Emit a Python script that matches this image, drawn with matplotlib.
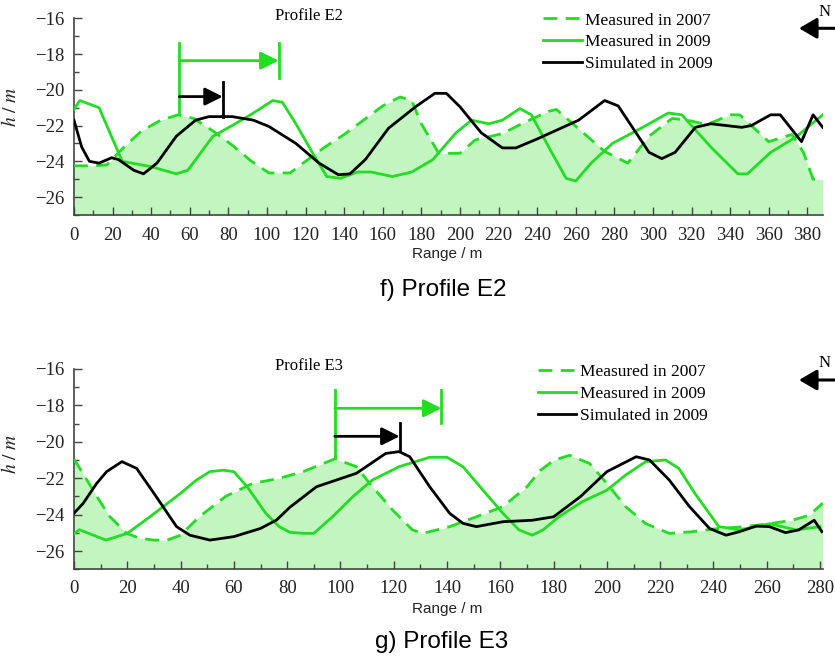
import matplotlib

matplotlib.use("Agg")
import matplotlib.pyplot as plt
from matplotlib.ticker import MultipleLocator

plt.rcParams.update({
    "font.family": "Liberation Serif",
    "mathtext.fontset": "stix",
    "axes.unicode_minus": True,
})

GREEN = "#22dd22"
FILL = "#c3f5c0"
GREY = "#444444"

# ---- Profile E2 ----
e2_2007_x = [0, 10, 17, 25, 35, 45, 54, 62, 72, 82, 92, 101, 112, 120, 130, 140,
             150, 160, 169, 175, 180, 189, 200, 208, 222, 232, 246, 250, 258,
             275, 287, 298, 310, 318, 328, 340, 345, 360, 372, 378, 383, 388]
e2_2007_h = [-24.25, -24.25, -24.2, -23.3, -22.3, -21.7, -21.4, -21.6, -22.3, -23.1,
             -24.0, -24.65, -24.65, -24.0, -23.2, -22.5, -21.7, -20.9, -20.4, -20.6,
             -21.9, -23.55, -23.55, -22.8, -22.45, -21.9, -21.2, -21.1, -21.85,
             -23.45, -24.1, -22.6, -21.6, -21.7, -21.95, -21.4, -21.4, -22.9, -22.5,
             -23.5, -25.0, -25.0]

e2_2009_x = [0, 3, 13, 25, 40, 53, 59, 72, 82, 93, 103, 108, 115, 124, 131, 138,
             147, 154, 165, 175, 186, 198, 206, 215, 222, 231, 237, 246, 255, 260,
             268, 279, 293, 308, 315, 330, 344, 349, 361, 374, 388]
e2_2009_h = [-21.1, -20.6, -21.0, -24.0, -24.3, -24.7, -24.5, -22.6, -22.0, -21.3,
             -20.6, -20.7, -21.9, -23.6, -24.85, -24.95, -24.6, -24.6, -24.85, -24.6,
             -23.9, -22.4, -21.7, -21.9, -21.7, -21.05, -21.4, -23.2, -24.95, -25.1,
             -24.1, -23.0, -22.2, -21.3, -21.4, -23.2, -24.7, -24.7, -23.5, -22.65,
             -21.4]

e2_sim_x = [0, 4, 8, 13, 19.5, 23, 31, 36, 43, 53, 63, 70, 82, 93, 101, 115, 127,
            137, 143, 151, 163, 177, 187, 193, 200, 211, 222, 229, 240, 261.5, 275,
            282, 298, 304.6, 311.5, 322, 330, 346, 351, 361, 366, 377, 383, 388]
e2_sim_h = [-21.7, -23.2, -24.0, -24.1, -23.8, -23.9, -24.5, -24.7, -24.1, -22.6,
            -21.7, -21.5, -21.5, -21.7, -22.05, -23.0, -24.1, -24.75, -24.7, -23.9,
            -22.15, -20.95, -20.2, -20.2, -20.95, -22.4, -23.25, -23.25, -22.75,
            -21.7, -20.6, -20.9, -23.5, -23.85, -23.5, -22.1, -21.9, -22.1, -22.0,
            -21.4, -21.4, -22.9, -21.4, -22.1]

# shift markers: (x_start, x_green_end, x_black_end), heights
e2_shift_x = [54.6, 106, 77.1]
e2_green_bar = [-17.4, -21.25, -17.4, -19.35, -18.37]   # left bar, right bar, arrow
e2_black_bar = [-19.55, -21.5, -20.38]                   # bar, arrow

# ---- Profile E3 ----
e3_2007_x = [0, 3.5, 8.5, 13.5, 19.75, 24.75, 30, 35, 40, 47, 57, 67, 77, 86, 98,
             106, 112, 119.6, 127, 131, 141, 151, 161, 170, 175, 180, 186, 193.5,
             200, 207, 214.6, 223.4, 232, 242, 252, 261, 269.6, 276, 281]
e3_2007_h = [-20.95, -21.77, -22.99, -24.12, -25.03, -25.30, -25.40, -25.40, -25.13,
             -24.12, -22.99, -22.29, -22.01, -21.64, -20.93, -21.37, -22.47, -23.75,
             -24.84, -25.03, -24.66, -24.12, -23.56, -22.47, -21.58, -21.02, -20.74,
             -21.19, -22.29, -23.56, -24.50, -25.03, -24.94, -24.76, -24.66, -24.50,
             -24.31, -24.03, -23.37]

e3_2009_x = [0, 2, 12, 20, 28.5, 40, 46, 51, 56, 60, 65, 72, 77, 81, 86, 90, 97,
             104.6, 112, 122, 133.5, 140, 146, 153.5, 161, 167, 172, 176, 182, 191,
             200, 207, 214.6, 222, 227, 233, 242, 250, 261, 271, 280]
e3_2009_h = [-25.06, -24.83, -25.40, -25.03, -24.12, -22.83, -22.10, -21.64, -21.56,
             -21.64, -22.47, -23.93, -24.66, -24.97, -25.03, -25.03, -24.12, -23.02,
             -22.10, -21.37, -20.85, -20.85, -21.37, -22.66, -23.93, -24.84, -25.13,
             -24.84, -24.12, -23.27, -22.66, -21.83, -21.09, -21.0, -21.46, -22.83,
             -24.66, -24.84, -24.50, -24.84, -24.66]

e3_sim_x = [0, 3.5, 8.5, 12.25, 18, 23.5, 30, 38.5, 43.5, 51, 60, 70, 76, 81, 91,
            106, 117, 122, 126, 133.5, 141, 146, 151, 161, 172, 180, 190, 200, 211,
            216, 223.4, 231, 238.5, 244.7, 249.7, 256, 261, 267, 272, 277.8, 280.7]
e3_sim_h = [-23.93, -23.37, -22.29, -21.64, -21.09, -21.46, -22.83, -24.66, -25.13,
            -25.40, -25.21, -24.76, -24.3, -23.6, -22.47, -21.73, -20.64, -20.54,
            -20.82, -22.47, -23.93, -24.48, -24.66, -24.39, -24.31, -24.12, -23.02,
            -21.64, -20.82, -21.0, -22.10, -23.56, -24.76, -25.13, -24.94, -24.63,
            -24.66, -24.99, -24.84, -24.31, -24.94]

e3_shift_x = [97.9, 137.9, 122.2]
e3_green_bar = [-17.16, -20.91, -17.16, -18.99, -18.16]
e3_black_bar = [-18.99, -20.46, -19.70]

Y_TICKS = [-16, -18, -20, -22, -24, -26]
LEGEND_LABELS = ["Measured in 2007", "Measured in 2009", "Simulated in 2009"]


def draw_panel(ax, xmax, x07, h07, x09, h09, xs, hs, shift_x, gbar, bbar,
               name, name_x, legend_anchor, ylabel_y, xpad):
    ax.fill_between(x07, h07, -27, color=FILL, lw=0, zorder=1)
    l1, = ax.plot(x07, h07, color=GREEN, lw=2.0, dashes=(5, 3), zorder=3)
    l2, = ax.plot(x09, h09, color=GREEN, lw=2.0, zorder=4)
    l3, = ax.plot(xs, hs, color="black", lw=2.0, zorder=5)

    # horizontal shift markers
    x0, xg, xb = shift_x
    ax.plot([x0, x0], gbar[0:2], color=GREEN, lw=2, zorder=6)
    ax.plot([xg, xg], gbar[2:4], color=GREEN, lw=2, zorder=6)
    ax.annotate("", xy=(xg, gbar[4]), xytext=(x0, gbar[4]),
                arrowprops=dict(arrowstyle="-|>,head_length=0.6,head_width=0.3",
                                color=GREEN, lw=2, shrinkA=0, shrinkB=0,
                                mutation_scale=18), zorder=6)
    ax.plot([xb, xb], bbar[0:2], color="black", lw=2, zorder=6)
    ax.annotate("", xy=(xb, bbar[2]), xytext=(x0, bbar[2]),
                arrowprops=dict(arrowstyle="-|>,head_length=0.6,head_width=0.3",
                                color="black", lw=2, shrinkA=0, shrinkB=0,
                                mutation_scale=18), zorder=6)

    ax.set_xlim(0, xmax)
    ax.set_ylim(-27, -16)
    ax.set_yticks(Y_TICKS)
    ax.xaxis.set_major_locator(MultipleLocator(20))
    ax.xaxis.set_minor_locator(MultipleLocator(10))
    ax.yaxis.set_minor_locator(MultipleLocator(1))
    ax.tick_params(which="both", direction="in", colors=GREY, labelsize=13.5,
                   labelcolor="#222222", width=1)
    ax.tick_params(which="major", length=6)
    ax.tick_params(which="minor", length=3.5)
    ax.tick_params(axis="x", pad=xpad)
    ax.tick_params(axis="y", pad=7)
    for side in ("top", "right"):
        ax.spines[side].set_visible(False)
    for side in ("left", "bottom"):
        ax.spines[side].set_color(GREY)
        ax.spines[side].set_linewidth(1.2)
    ax.patch.set_visible(False)

    ax.set_xlabel("Range / m", family="Liberation Sans", fontsize=11,
                  color="#222222")
    ax.set_ylabel(r"$h\ /\ m$", fontsize=14, color="#222222")
    ax.yaxis.set_label_coords(-0.072, ylabel_y)

    ax.text(name_x, -15.85, name, fontsize=12, ha="center", va="center",
            clip_on=False)
    ax.legend([l1, l2, l3], LEGEND_LABELS, loc="upper left",
              bbox_to_anchor=legend_anchor, frameon=False, fontsize=12.5,
              handlelength=2.2, handletextpad=0.2, labelspacing=0.33,
              borderpad=0, borderaxespad=0)


fig = plt.figure(figsize=(8.35, 6.57), dpi=100)
ax1 = fig.add_axes([0.0886, 0.6728, 0.8967, 0.2994])
ax2 = fig.add_axes([0.0886, 0.1336, 0.8967, 0.3048])

draw_panel(ax1, 388, e2_2007_x, e2_2007_h, e2_2009_x, e2_2009_h,
           e2_sim_x, e2_sim_h, e2_shift_x, e2_green_bar, e2_black_bar,
           "Profile E2", 122, (0.627, 1.03), 0.548, 9)
draw_panel(ax2, 281, e3_2007_x, e3_2007_h, e3_2009_x, e3_2009_h,
           e3_sim_x, e3_sim_h, e3_shift_x, e3_green_bar, e3_black_bar,
           "Profile E3", 88, (0.62, 1.025), 0.578, 8)
ax1.xaxis.set_label_coords(0.498, -0.163)
ax2.xaxis.set_label_coords(0.498, -0.164)

# north arrows
for ax, y_arrow, y_n in [(ax1, 657 - 28.3, 657 - 11.7), (ax2, 657 - 380, 657 - 363)]:
    fig.text(825 / 835, y_n / 657, "N", fontsize=12, ha="center", va="center")
    ax.annotate("", xy=(799, y_arrow), xytext=(845, y_arrow),
                xycoords="figure pixels", textcoords="figure pixels",
                arrowprops=dict(arrowstyle="-|>,head_length=0.6,head_width=0.35",
                                color="black", lw=2.2, shrinkA=0, shrinkB=0,
                                mutation_scale=18), annotation_clip=False)

# panel captions
fig.text(443 / 835, 1 - 290 / 657, "f) Profile E2", family="Liberation Sans",
         fontsize=17.5, ha="center", va="center")
fig.text(442 / 835, 1 - 641.7 / 657, "g) Profile E3", family="Liberation Sans",
         fontsize=17.5, ha="center", va="center")

fig.savefig("out.png", dpi=100)
